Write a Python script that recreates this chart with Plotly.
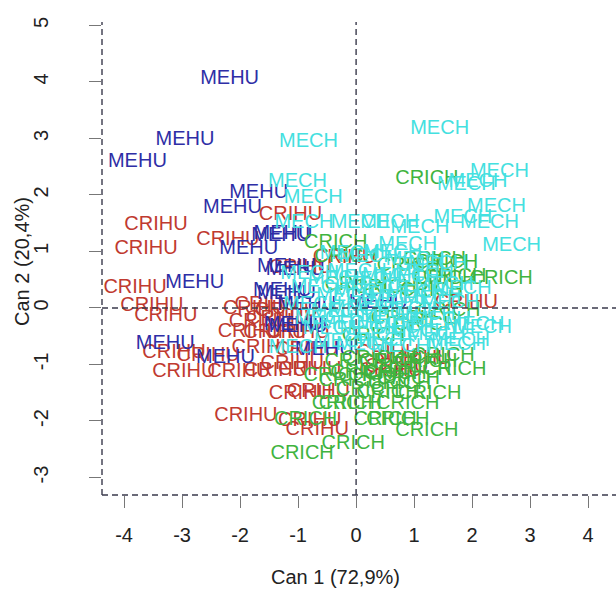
import plotly.graph_objects as go

# ---- data ----
mehu_x = [-2.18, -2.95, -3.77, -1.68, -2.13, -1.30, -1.26, -1.85, -2.78, -1.20, -1.05,
          -1.27, -1.20, -3.29, -2.25, -1.08, -1.00, 0.38, -0.85, -0.55]
mehu_y = [4.05, 2.98, 2.59, 2.04, 1.77, 1.27, 1.30, 1.04, 0.45, 0.72, 0.68,
          0.30, 0.25, -0.64, -0.89, -0.30, -0.33, 0.09, 0.05, -0.75]

crihu_x = [-3.45, -3.62, -3.81, -3.52, -3.28, -3.14, -2.97, -2.21, -1.13, -2.02, -1.39,
           -1.84, -0.96, -1.90, -0.67, -0.85, -1.55, -1.75, -1.20, -1.35, -1.65, -0.96,
           -1.60, -1.10, -0.80, 1.90, 1.10, 0.60, -0.20, -2.55, -0.65, -0.80, 0.55, 0.70,
           -1.40, -1.00]
crihu_y = [1.47, 1.04, 0.36, 0.04, -0.14, -0.80, -1.14, 1.21, 1.64, -1.14, -1.11,
           -0.43, -1.52, -1.91, -2.16, -0.75, 0.05, -0.02, -0.05, -0.20, -0.25, 0.70,
           -0.70, -1.00, -1.10, 0.09, -0.91, -1.12, 0.88, -0.85, -1.48, -2.00, -0.80, -1.05,
           -0.45, -0.45]

crich_x = [1.22, -0.35, -0.17, 1.56, 2.50, 1.53, 1.70, 1.27, 0.89, 1.22, 0.72, -0.05,
           -0.93, -0.87, -0.22, -0.36, -0.10, 0.67, -0.10, 0.50,
           0.00, 0.30, 0.60, 0.90, 1.20, 1.50, 0.10, 0.40, 0.90, 1.10, 0.20, 0.55, 0.75,
           1.70, 1.35, 0.90, 0.50, 1.30, 0.80, 1.20, 1.60, 0.30, 0.00]
crich_y = [2.29, 1.15, 0.90, 0.79, 0.52, 0.52, -1.09, -1.52, -1.70, -2.18, -1.98, -2.41,
           -2.59, -1.98, -1.70, -1.21, -1.30, -1.16, -1.70, -1.98,
           -0.95, -0.90, -0.95, -0.90, -0.95, -0.85, -1.15, -1.20, -1.25, -1.10, -1.45, -1.50, -1.35,
           0.55, 0.85, 0.75, 0.35, 0.30, -0.20, -0.30, -0.05, -0.50, 0.40]

mech_x = [-0.82, 1.44, 2.47, 1.90, 2.10, 2.42, 1.84, 2.30, 2.68, -1.01, -0.74, 0.58,
          1.10, 0.89, 0.07, -0.90, 2.18, 1.80, 2.05, 1.73, -1.00,
          -0.32, 0.02, 0.28, 0.61, 0.93, 1.18, 1.52, 1.83,
          -0.18, 0.12, 0.41, 0.72, 1.03, 1.31, 1.62,
          -0.28, 0.04, 0.33, 0.58, 0.88, 1.21, 1.47,
          -0.41, -0.12, 0.22, 0.51, 0.83, 1.09, 1.38,
          -0.22, 0.16, 0.47, 0.77,
          0.21, 0.63, 1.02, 1.41, -0.12,
          -0.62, -0.75, -0.55, -0.80]
mech_y = [2.93, 3.16, 2.41, 2.18, 2.23, 1.79, 1.59, 1.50, 1.09, 2.23, 1.95, 1.50,
          1.41, 1.11, 1.50, 1.50, -0.36, -0.59, -0.30, -0.66, -0.71,
          0.52, 0.63, 0.50, 0.57, 0.55, 0.62, 0.41, 0.33,
          0.22, 0.28, 0.33, 0.18, 0.27, 0.16, 0.08,
          -0.08, -0.04, 0.03, -0.12, -0.03, -0.13, -0.22,
          -0.37, -0.28, -0.38, -0.29, -0.36, -0.43, -0.47,
          -0.61, -0.66, -0.58, -0.69,
          0.91, 0.97, 0.84, 0.78, 0.96,
          0.35, 0.05, -0.20, 0.60]

x_ticks = [-4, -3, -2, -1, 0, 1, 2, 3, 4]
y_ticks = [-3, -2, -1, 0, 1, 2, 3, 4, 5]
x_range = [-4.38, 4.48]
y_range = [-3.31, 5.06]

FONT = "Liberation Sans, Arial, sans-serif"
AXC = "#3a3a4c"

groups = [
    ("CRIHU", crihu_x, crihu_y, "#c03a30"),
    ("MEHU", mehu_x, mehu_y, "#2e2ea6"),
    ("CRICH", crich_x, crich_y, "#3fb43f"),
    ("MECH", mech_x, mech_y, "#44e0e0"),
]

fig = go.Figure()
for name, xs, ys, col in groups:
    fig.add_trace(go.Scatter(
        x=xs, y=ys, mode="text", text=[name] * len(xs),
        textposition="middle center",
        textfont=dict(family=FONT, size=20, color=col),
        showlegend=False, hoverinfo="skip",
    ))

dash = "6px,4px"
shapes = [
    # axis box (left, bottom)
    dict(type="line", xref="paper", yref="paper", x0=0, x1=0, y0=0, y1=1,
         line=dict(color=AXC, width=1.4, dash=dash)),
    dict(type="line", xref="paper", yref="paper", x0=0, x1=1, y0=0, y1=0,
         line=dict(color=AXC, width=1.4, dash=dash)),
    # zero lines
    dict(type="line", xref="x", yref="paper", x0=0, x1=0, y0=0, y1=1,
         line=dict(color=AXC, width=1.4, dash=dash)),
    dict(type="line", xref="paper", yref="y", x0=0, x1=1, y0=0, y1=0,
         line=dict(color=AXC, width=1.4, dash=dash)),
]

fig.update_layout(
    width=616, height=590,
    margin=dict(l=102, r=0, t=22, b=95),
    paper_bgcolor="white", plot_bgcolor="white",
    font=dict(family=FONT, size=20, color="#222"),
    shapes=shapes,
    xaxis=dict(range=x_range, tickvals=x_ticks, ticktext=[str(v) for v in x_ticks],
               showgrid=False, zeroline=False, showline=False,
               ticks="outside", ticklen=12, tickwidth=1, tickcolor="#777",
               ticklabelstandoff=10,
               tickfont=dict(family=FONT, size=20, color="#222")),
    yaxis=dict(range=y_range, tickvals=y_ticks, ticktext=[str(v) for v in y_ticks],
               showgrid=False, zeroline=False, showline=False,
               ticks="outside", ticklen=12, tickwidth=1, tickcolor="#777",
               tickangle=-90, ticklabelstandoff=33,
               tickfont=dict(family=FONT, size=20, color="#222")),
    annotations=[
        dict(text="Can 1 (72,9%)", xref="paper", yref="paper",
             x=(335 - 102) / 514, y=(495 - 577) / 473, showarrow=False,
             xanchor="center", yanchor="middle",
             font=dict(family=FONT, size=20, color="#222")),
        dict(text="Can 2 (20,4%)", xref="paper", yref="paper",
             x=(22 - 102) / 514, y=(495 - 262) / 473, showarrow=False,
             xanchor="center", yanchor="middle", textangle=-90,
             font=dict(family=FONT, size=20, color="#222")),
    ],
)

fig.write_html("out.html")
